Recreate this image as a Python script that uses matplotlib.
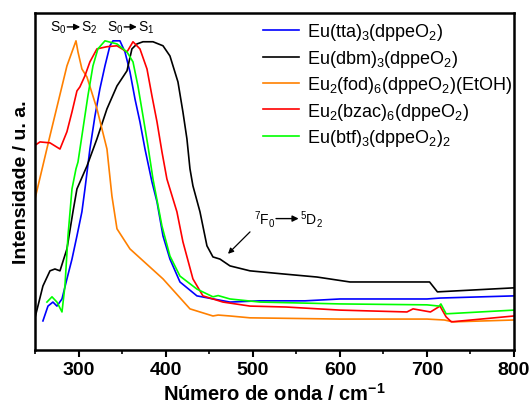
import numpy as np
import matplotlib
matplotlib.use('Agg')
import matplotlib.pyplot as plt

plt.rcParams['font.family'] = ['Liberation Sans', 'DejaVu Sans']
plt.rcParams['mathtext.fontset'] = 'custom'
plt.rcParams['mathtext.rm'] = 'Liberation Sans'
plt.rcParams['mathtext.it'] = 'Liberation Sans'
plt.rcParams['mathtext.bf'] = 'Liberation Sans:bold'

# excitation spectra (intensity normalised to 100 at peak)
x_tta = [258.6, 264.4, 270.1, 274.7, 280.5, 286.2, 292.0, 297.7, 303.4, 306.9, 312.6, 318.4,
         324.1, 329.9, 335.6, 339.1, 347.1, 352.9, 358.6, 364.4, 370.1, 375.9, 383.9, 389.7,
         396.6, 404.6, 416.1, 435.6, 473.6, 508, 560, 600, 700, 715, 800]
y_tta = [9.4, 14.2, 15.5, 14.2, 16.5, 23.0, 29.4, 36.9, 44.7, 52.1, 65.0, 75.7,
         84.5, 91.9, 98.4, 100, 100, 96.4, 90.0, 81.2, 73.8, 65.0, 54.4, 47.9,
         36.9, 29.4, 22.0, 17.5, 15.5, 15.9, 15.9, 16.5, 16.5, 16.8, 17.5]

x_dbm = [250, 258.6, 266.7, 272.4, 278.2, 286.2, 293.1, 297.7, 309.2, 320.7, 332.2, 343.7,
         355.2, 360.9, 366.7, 373.6, 385.1, 396.6, 404.6, 413.8, 419.5, 424.1, 427.6, 431.0,
         439.1, 447.1, 454.0, 462.1, 473.6, 496.6, 534.5, 573.6, 611.5, 650, 703, 712, 800]
y_dbm = [11.0, 20.7, 25.6, 26.2, 25.6, 32.7, 44.7, 52.1, 59.5, 68.3, 78.0, 85.4,
         90.3, 97.4, 99.0, 99.7, 99.7, 98.4, 95.1, 86.7, 77.0, 68.3, 58.6, 53.1,
         44.7, 33.7, 30.1, 29.4, 27.2, 25.6, 24.6, 23.6, 22.0, 22.0, 22.0, 18.8, 20.1]

x_fod = [250, 266.7, 286.2, 296.6, 298.9, 303.4, 309.2, 320.7, 332.2, 337.9, 343.7, 358.6,
         396.6, 427.6, 454.0, 460, 473.6, 496.6, 600, 700, 720, 730, 800]
y_fod = [49.5, 69.3, 91.9, 100, 96.4, 90.9, 88.3, 78.0, 65.0, 49.8, 39.2, 32.7,
         23.0, 13.3, 11.0, 11.3, 11.0, 10.4, 10.0, 10.0, 9.7, 9.1, 9.7]

x_bzac = [250, 255.2, 266.7, 278.2, 286.2, 292.0, 297.7, 301.1, 306.9, 312.6, 320.7, 332.2,
          343.7, 355.2, 362.1, 370.1, 378.2, 383.9, 389.7, 395.4, 401.1, 412.6, 419.5, 431.0,
          442.5, 465.5, 496.6, 538, 600, 677, 684, 704, 715, 722, 728, 800]
y_bzac = [66.3, 67.3, 67.0, 65.0, 70.6, 77.0, 83.8, 85.1, 88.7, 93.2, 97.4, 98.1,
          98.4, 96.4, 99.7, 97.4, 90.9, 82.2, 73.8, 64.1, 55.3, 44.7, 35.0, 23.0,
          17.5, 15.5, 14.2, 13.9, 12.9, 12.3, 13.3, 12.3, 14.2, 10.7, 9.1, 11.0]

x_btf = [263.2, 269.0, 274.7, 280.5, 283.9, 287.4, 292.0, 296.6, 298.9, 304.6, 310.3, 316.1,
         321.8, 329.9, 343.7, 355.2, 362.1, 367.8, 373.6, 379.3, 385.1, 395.4, 404.6, 416.1,
         435.6, 454.0, 460, 473.6, 508, 600, 700, 714, 716, 722, 800]
y_btf = [15.5, 17.2, 15.5, 12.3, 20.7, 36.9, 52.1, 58.6, 60.8, 71.5, 82.2, 91.9,
         97.4, 100, 99.0, 96.4, 93.2, 85.4, 75.7, 66.0, 55.3, 40.1, 30.4, 23.9,
         19.7, 17.2, 17.6, 16.5, 15.5, 14.9, 14.6, 14.2, 14.9, 11.7, 12.9]

labels = [r'Eu(tta)$_3$(dppeO$_2$)',
          r'Eu(dbm)$_3$(dppeO$_2$)',
          r'Eu$_2$(fod)$_6$(dppeO$_2$)(EtOH)',
          r'Eu$_2$(bzac)$_6$(dppeO$_2$)',
          r'Eu(btf)$_3$(dppeO$_2$)$_2$']
colors = ['#0000ff', '#000000', '#ff8000', '#ff0000', '#00ff00']

fig = plt.figure(figsize=(5.29, 4.06), dpi=100)
ax = fig.add_axes([0.067, 0.1355, 0.9046, 0.83])

series = [(x_tta, y_tta), (x_dbm, y_dbm), (x_fod, y_fod), (x_bzac, y_bzac), (x_btf, y_btf)]
for (xs, ys), lab, c in zip(series, labels, colors):
    ax.plot(xs, ys, color=c, lw=1.2, label=lab)

ax.set_xlim(250, 800)
ax.set_ylim(0, 109)
ax.set_xticks([300, 400, 500, 600, 700, 800])
ax.set_xticks([250, 350, 450, 550, 650, 750], minor=True)
ax.set_yticks([])
ax.tick_params(axis='x', which='major', direction='out', length=5, width=1.5,
               labelsize=14, pad=3)
ax.tick_params(axis='x', which='minor', direction='out', length=3, width=1.2)
for lbl in ax.get_xticklabels():
    lbl.set_fontweight('bold')
for sp in ax.spines.values():
    sp.set_linewidth(1.8)

ax.set_xlabel(r'Número de onda / cm$^{\mathbf{-1}}$', fontsize=14.5, fontweight='bold', labelpad=3)
ax.set_ylabel('Intensidade / u. a.', fontsize=14, fontweight='bold', labelpad=4)

leg = ax.legend(loc='upper right', bbox_to_anchor=(0.995, 0.975), frameon=False,
                fontsize=13, handlelength=2.0, handletextpad=0.4, labelspacing=0.3,
                borderpad=0, borderaxespad=0)

# transition labels
arrow = dict(arrowstyle='-|>', color='black', lw=1.0, mutation_scale=9, shrinkA=0, shrinkB=0)
def trans(x0, x1, y, left, right, fs=10):
    ax.annotate('', xy=(x1, y), xytext=(x0, y), arrowprops=arrow)
    ax.text(x0 - 1, y, left, ha='right', va='center', fontsize=fs)
    ax.text(x1 + 1, y, right, ha='left', va='center', fontsize=fs)

trans(286.5, 301.5, 104.5, r'S$_0$', r'S$_2$')
trans(352.0, 366.5, 104.5, r'S$_0$', r'S$_1$')
trans(526.5, 552.5, 42.5, r'$^7$F$_0$', r'$^5$D$_2$')
ax.annotate('', xy=(471.3, 31.1), xytext=(496.6, 38.2),
            arrowprops=dict(arrowstyle='-|>', color='black', lw=0.9, mutation_scale=8,
                            shrinkA=0, shrinkB=0))

fig.savefig('out.png', dpi=100)
